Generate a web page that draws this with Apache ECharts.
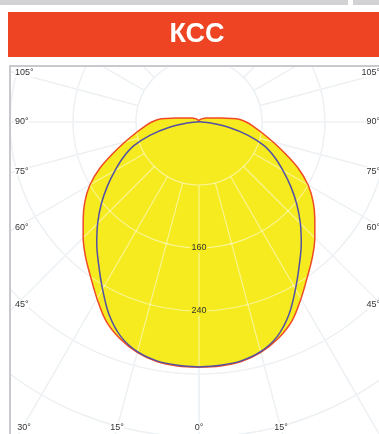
<!DOCTYPE html>
<html>
<head>
<meta charset="utf-8">
<script src="https://cdn.jsdelivr.net/npm/echarts@6/dist/echarts.min.js"></script>
<style>
  html, body { margin: 0; padding: 0; background: #ffffff; }
  #chart { width: 379px; height: 434px; }
</style>
</head>
<body>
<div id="chart"></div>
<script>
// Luminous intensity curve (cd), read every 5 degrees from nadir (0) to zenith (180)
const angles = [0, 5, 10, 15, 20, 25, 30, 35, 40, 45, 50, 55, 60, 65, 70, 75, 80, 85, 90,
                95, 100, 105, 110, 115, 120, 125, 130, 135, 140, 145, 150, 155, 160, 165, 170, 175, 180];
const redValues = [311, 311, 309, 303, 293, 279, 259, 240, 224, 208, 192, 177, 160, 139, 116, 97, 82, 70, 60,
                   48, 29, 20, 15, 12, 10, 8, 7, 6, 5, 4, 4, 3, 3, 2, 2, 1, 1];
const blueValues = [311, 310, 308, 302, 290, 270, 245, 222, 202, 182, 162, 142, 123, 106, 88, 64, 38, 16, 4,
                    2, 1, 1, 0, 0, 0, 0, 0, 0, 0, 0, 0, 0, 0, 0, 0, 0, 0];
const ringStep = 80;
const ringMax = 480;
const ringLabels = [160, 240];
const sideAngleTicks = [0, 15, 30, 45, 60, 75, 90, 105];
const titleText = 'КСС';

const CENTER = [199, 122];
const R_OUT = 378;
const R_IN = 63;
const YELLOW = '#f5eb1e';
const LABEL_FONT = 'Liberation Sans, Arial, sans-serif';

// Closed polar path: left half (clockwise from nadir) then the mirrored right half
function fullCurve(vals) {
  const left = angles.map((a, i) => [vals[i], a]);
  const right = [];
  for (let i = angles.length - 2; i >= 0; i--) right.push([vals[i], 360 - angles[i]]);
  return left.concat(right);
}

function gridAxes(polarIndex, color, z, withLabels) {
  return {
    angle: {
      polarIndex, type: 'value', min: 0, max: 360, interval: 15, startAngle: 270, clockwise: true, z,
      axisLine: { show: false }, axisTick: { show: false }, axisLabel: { show: false },
      splitLine: { show: true, lineStyle: { color, width: 1.2 } }
    },
    radius: {
      polarIndex, type: 'value', min: ringStep, max: ringMax, interval: ringStep, z,
      axisLine: { show: false }, axisTick: { show: false },
      axisLabel: withLabels ? {
        show: true, customValues: ringLabels, margin: 0, align: 'center', verticalAlign: 'middle',
        fontSize: 9, color: '#333', fontFamily: LABEL_FONT, backgroundColor: YELLOW, padding: [0, 1]
      } : { show: false },
      splitLine: { show: true, lineStyle: { color, width: 1.2 } }
    }
  };
}

const under = gridAxes(1, '#dde3e8', 0, false);
const over = gridAxes(2, 'rgba(255,255,255,0.5)', 3, true);

const chart = echarts.init(document.getElementById('chart'));
chart.setOption({
  animation: false,
  backgroundColor: '#ffffff',
  polar: [
    { center: CENTER, radius: [0, R_OUT] },
    { center: CENTER, radius: [R_IN, R_OUT] },
    { center: CENTER, radius: [R_IN, R_OUT] }
  ],
  angleAxis: [
    { polarIndex: 0, type: 'value', min: 0, max: 360, startAngle: 270, clockwise: true, show: false },
    under.angle, over.angle
  ],
  radiusAxis: [
    { polarIndex: 0, type: 'value', min: 0, max: ringMax, show: false },
    under.radius, over.radius
  ],
  series: [
    { type: 'line', coordinateSystem: 'polar', polarIndex: 0, data: fullCurve(redValues), symbol: 'none',
      smooth: 0.35, lineStyle: { width: 0, opacity: 0 }, areaStyle: { color: YELLOW, opacity: 1 }, z: 2, silent: true },
    { type: 'line', coordinateSystem: 'polar', polarIndex: 0, data: fullCurve(redValues), symbol: 'none',
      smooth: 0.35, lineStyle: { color: '#ef4a25', width: 1.5 }, z: 4, silent: true },
    { type: 'line', coordinateSystem: 'polar', polarIndex: 0, data: fullCurve(blueValues), symbol: 'none',
      smooth: 0.35, lineStyle: { color: '#5350a6', width: 1.5 }, z: 5, silent: true }
  ]
});

// Angle tick labels sit where each ray meets the frame edges
const origin = chart.convertToPixel({ polarIndex: 0 }, [0, 0]);
const FRAME = { left: 16, right: 382, bottom: 428 };
const texts = [];
function rayDir(angle) {
  const p = chart.convertToPixel({ polarIndex: 0 }, [ringMax, angle]);
  return [p[0] - origin[0], p[1] - origin[1]];
}
function addLabel(x, y, txt, align) {
  texts.push({
    type: 'text', z: 60, x, y,
    style: { text: txt, fill: '#333', font: '9px ' + LABEL_FONT, align, verticalAlign: 'middle',
             backgroundColor: '#ffffff' }
  });
}
sideAngleTicks.forEach(a => {
  [a, 360 - a].forEach((ang, side) => {
    if (a === 0 && side === 1) return;
    const d = rayDir(ang);
    const txt = a + '°';
    if (d[1] > 0) {
      const tb = (FRAME.bottom - origin[1]) / d[1];
      const xb = origin[0] + d[0] * tb;
      if (xb >= FRAME.left && xb <= FRAME.right - 10) {
        addLabel(Math.min(Math.max(xb, 24), 369), FRAME.bottom, txt, 'center');
        return;
      }
    }
    if (d[0] < 0) {
      const t = (FRAME.left - origin[0]) / d[0];
      addLabel(15, origin[1] + d[1] * t, txt, 'left');
    } else if (d[0] > 0) {
      const t = (FRAME.right - origin[0]) / d[0];
      addLabel(380, origin[1] + d[1] * t, txt, 'right');
    }
  });
});

chart.setOption({
  graphic: [
    // mask the grid outside the plot frame
    { type: 'rect', z: 50, shape: { x: 0, y: 0, width: 379, height: 65 }, style: { fill: '#ffffff' } },
    { type: 'rect', z: 50, shape: { x: 0, y: 0, width: 9, height: 434 }, style: { fill: '#ffffff' } },
    { type: 'rect', z: 51, shape: { x: 10, y: 66, width: 380, height: 380 },
      style: { fill: null, stroke: '#c9c9cd', lineWidth: 2 } },
    // header strip and title bar
    { type: 'rect', z: 52, shape: { x: 0, y: 0, width: 348, height: 5 }, style: { fill: '#d2d2d4' } },
    { type: 'rect', z: 52, shape: { x: 353, y: 0, width: 26, height: 5 }, style: { fill: '#d2d2d4' } },
    { type: 'rect', z: 52, shape: { x: 8, y: 12, width: 371, height: 45 }, style: { fill: '#ee4424' } },
    { type: 'text', z: 53, x: 197, y: 35,
      style: { text: titleText, fill: '#ffffff', font: 'bold 27px ' + LABEL_FONT, align: 'center', verticalAlign: 'middle' } }
  ].concat(texts)
});
</script>
</body>
</html>
